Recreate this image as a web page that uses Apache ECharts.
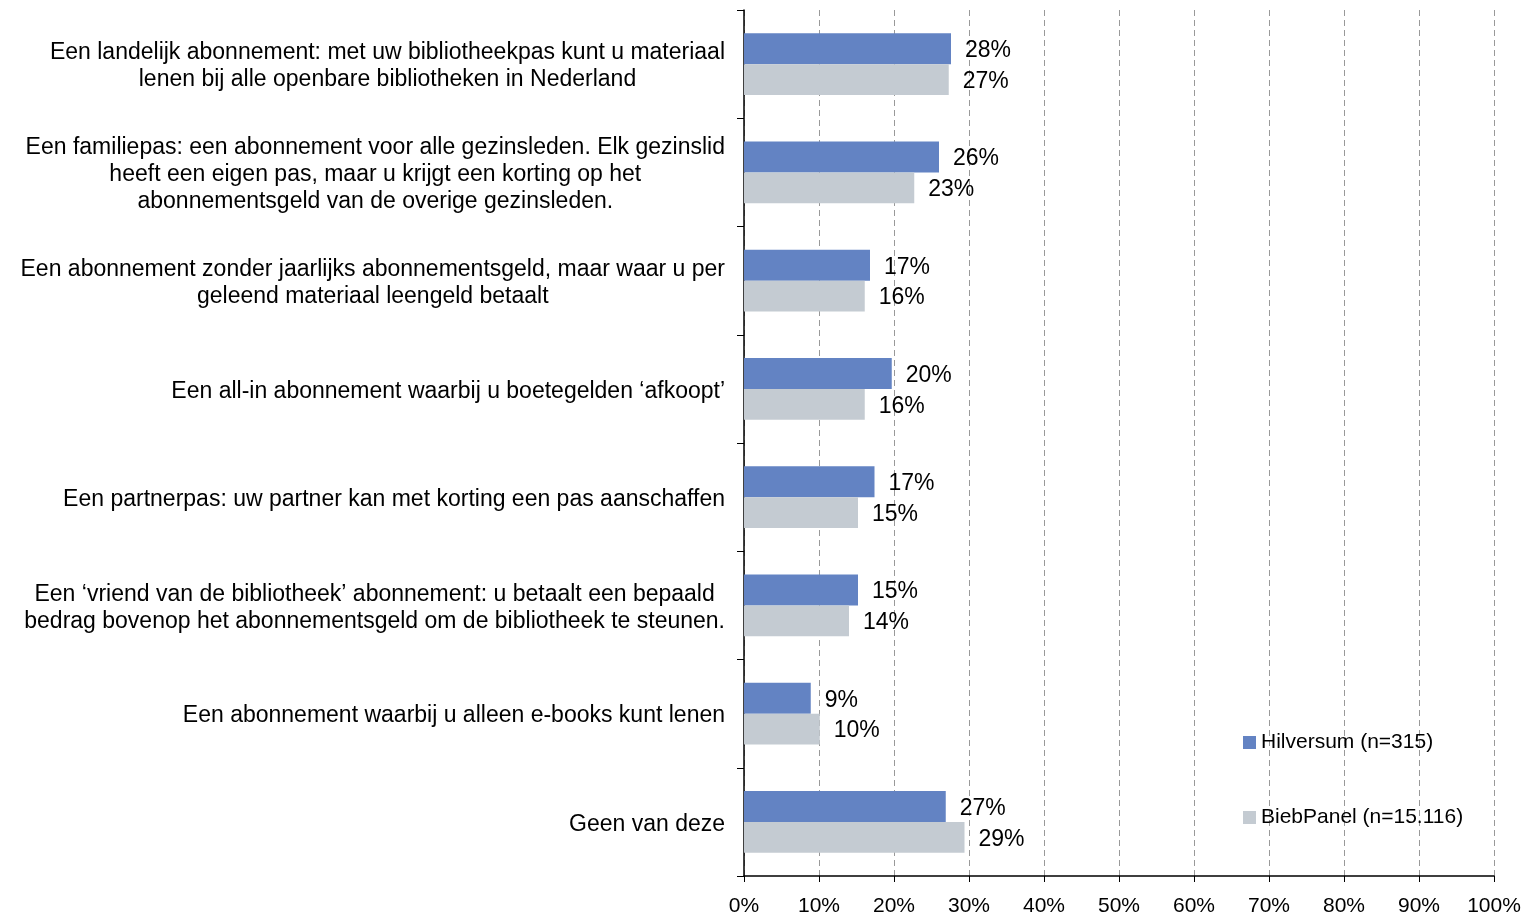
<!DOCTYPE html>
<html><head><meta charset="utf-8">
<script src="https://cdn.jsdelivr.net/npm/echarts@6/dist/echarts.min.js"></script>
<style>html,body{margin:0;padding:0;background:#fff}#c{width:1539px;height:917px}</style>
</head><body><div id="c"></div>
<script>
const categories = [
  "Een landelijk abonnement: met uw bibliotheekpas kunt u materiaal\nlenen bij alle openbare bibliotheken in Nederland",
  "Een familiepas: een abonnement voor alle gezinsleden. Elk gezinslid\nheeft een eigen pas, maar u krijgt een korting op het\nabonnementsgeld van de overige gezinsleden.",
  "Een abonnement zonder jaarlijks abonnementsgeld, maar waar u per\ngeleend materiaal leengeld betaalt",
  "Een all-in abonnement waarbij u boetegelden \u2018afkoopt\u2019",
  "Een partnerpas: uw partner kan met korting een pas aanschaffen",
  "Een \u2018vriend van de bibliotheek\u2019 abonnement: u betaalt een bepaald\nbedrag bovenop het abonnementsgeld om de bibliotheek te steunen.",
  "Een abonnement waarbij u alleen e-books kunt lenen",
  "Geen van deze"
];
const hilversum = [27.6, 26.0, 16.8, 19.7, 17.4, 15.2, 8.9, 26.9];
const biebpanel = [27.3, 22.7, 16.1, 16.1, 15.2, 14.0, 10.1, 29.4];
const seriesNames = ["Hilversum (n=315)", "BiebPanel (n=15.116)"];
const xTicks = [0, 10, 20, 30, 40, 50, 60, 70, 80, 90, 100];

const chart = echarts.init(document.getElementById('c'));
const font = 'Liberation Sans, Arial, sans-serif';
const lbl = {show: true, position: 'right', distance: 14, offset: [0, 2], color: '#000', fontSize: 23, fontFamily: font,
  formatter: p => Math.round(p.value) + '%'};
chart.setOption({
  animation: false,
  grid: {left: 744, right: 45, top: 10, bottom: 40},
  legend: {
    orient: 'vertical', left: 1238, top: 727, itemGap: 54, itemWidth: 13, itemHeight: 13,
    icon: 'rect', textStyle: {fontSize: 21, fontFamily: font, color: '#000'},
    data: seriesNames
  },
  xAxis: {
    type: 'value', min: 0, max: 100, interval: 10,
    axisLine: {show: true, lineStyle: {color: '#000', width: 1.5}},
    axisTick: {show: true, length: 6, lineStyle: {color: '#000'}},
    axisLabel: {formatter: v => xTicks.includes(v) ? v + '%' : '', fontSize: 21, fontFamily: font, color: '#000', margin: 20},
    splitLine: {show: true, lineStyle: {type: [6, 4], color: '#999', width: 1}}
  },
  yAxis: {
    type: 'category', inverse: true, data: categories,
    axisLine: {show: true, lineStyle: {color: '#000', width: 1.5}},
    axisTick: {show: true, length: 7, lineStyle: {color: '#000'}},
    axisLabel: {align: 'right', margin: 19, padding: [5, 0, 0, 0],
      formatter: v => v.split('\n').map(l => '{c|' + l + '}').join('\n'),
      rich: {c: {align: 'center', fontSize: 23, lineHeight: 27, fontFamily: font, color: '#000'}}
    },
  },
  series: [
    {name: seriesNames[0], type: 'bar', data: hilversum, barGap: '0%', barCategoryGap: '43%',
     itemStyle: {color: '#6383C3'}, label: lbl},
    {name: seriesNames[1], type: 'bar', data: biebpanel, barGap: '0%', barCategoryGap: '43%',
     itemStyle: {color: '#C4CBD2'}, label: lbl}
  ]
});
</script></body></html>
